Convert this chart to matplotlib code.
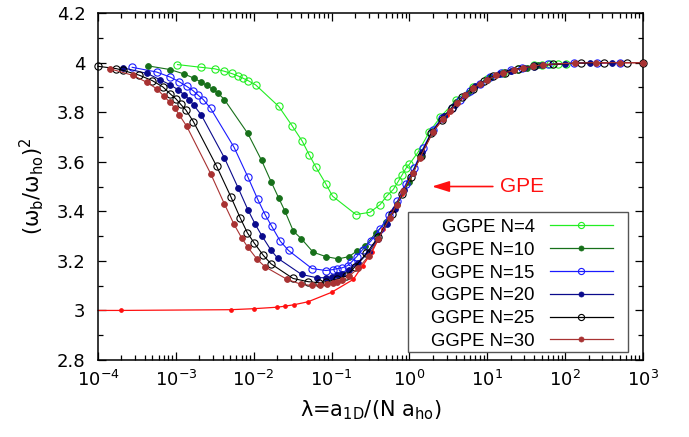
import matplotlib
matplotlib.use("Agg")
import matplotlib.pyplot as plt
from matplotlib.lines import Line2D
from matplotlib.patches import Rectangle
from matplotlib.ticker import LogLocator, MultipleLocator, NullFormatter

plt.rcParams['font.family'] = ['DejaVu Sans']
plt.rcParams['mathtext.fontset'] = 'dejavusans'

# ---- data: lambda vs (omega_b/omega_ho)^2 ----
gpe_x = [1e-4, 2e-4, 5.1e-3, 1e-2, 2e-2, 2.5e-2, 3.3e-2, 5e-2, 0.1, 0.19, 0.25, 0.33, 0.46,
         0.6, 0.8, 1.0, 1.4, 2.0, 3.0, 5.0, 10, 20, 50, 100, 1000]
gpe_y = [3.0, 3.0, 3.003, 3.007, 3.013, 3.017, 3.023, 3.035, 3.073, 3.125, 3.18, 3.235, 3.327,
         3.40, 3.47, 3.53, 3.625, 3.72, 3.79, 3.86, 3.93, 3.967, 3.99, 3.996, 4.0]

n4_x = [1.05e-3, 2.1e-3, 3.15e-3, 4.2e-3, 5.2e-3, 6.3e-3, 7.3e-3, 8.5e-3, 1.06e-2, 2.1e-2,
        3.1e-2, 4.2e-2, 5.2e-2, 6.3e-2, 8.4e-2, 0.103, 0.206, 0.312, 0.42, 0.51, 0.62, 0.72,
        0.81, 0.9, 1.0, 1.3, 1.8, 2.5, 4.0, 6.5, 10, 16, 25, 40, 50, 64, 81, 102]
n4_y = [3.992, 3.981, 3.975, 3.965, 3.956, 3.946, 3.937, 3.927, 3.910, 3.823,
        3.746, 3.683, 3.626, 3.578, 3.512, 3.461, 3.387, 3.396, 3.427, 3.461, 3.488, 3.521,
        3.548, 3.573, 3.59, 3.64, 3.72, 3.78, 3.85, 3.90, 3.935, 3.96, 3.975, 3.99, 3.992,
        3.993, 3.995, 3.996]

n10_x = [4.35e-4, 8.4e-4, 1.28e-3, 1.71e-3, 2.1e-3, 2.5e-3, 2.97e-3, 3.44e-3, 4.2e-3, 8.4e-3,
         1.26e-2, 1.67e-2, 2.1e-2, 2.5e-2, 3.23e-2, 4.1e-2, 5.8e-2, 8.5e-2, 0.122, 0.167,
         0.21, 0.27, 0.37, 0.5, 0.7, 1.0, 1.4, 2.0, 2.8, 4.0, 5.6, 8.0, 11, 16, 22, 32, 45]
n10_y = [3.987, 3.972, 3.954, 3.937, 3.922, 3.908, 3.892, 3.878, 3.851, 3.714,
         3.606, 3.520, 3.453, 3.403, 3.320, 3.289, 3.235, 3.217, 3.208, 3.217,
         3.239, 3.259, 3.313, 3.355, 3.43, 3.52, 3.625, 3.725, 3.785, 3.84, 3.878, 3.915,
         3.94, 3.958, 3.97, 3.98, 3.99]

n15_x = [2.75e-4, 5.66e-4, 8.4e-4, 1.1e-3, 1.38e-3, 1.66e-3, 1.94e-3, 2.25e-3, 2.8e-3, 5.6e-3,
         8.4e-3, 1.12e-2, 1.4e-2, 1.7e-2, 2.2e-2, 2.8e-2, 5.6e-2, 8.5e-2, 0.105, 0.119,
         0.137, 0.161, 0.18, 0.21, 0.25, 0.32, 0.42, 0.55, 0.7, 0.9, 1.15, 1.5, 2.0, 2.6,
         3.5, 4.5, 6.0, 8.0, 11, 15, 20, 28, 40, 60, 130, 260, 500]
n15_y = [3.981, 3.962, 3.942, 3.923, 3.904, 3.887, 3.868, 3.851, 3.815, 3.658,
         3.539, 3.450, 3.387, 3.340, 3.279, 3.242, 3.169, 3.161, 3.165, 3.169,
         3.172, 3.181, 3.195, 3.217, 3.245, 3.28, 3.33, 3.385, 3.44, 3.51, 3.575, 3.655,
         3.73, 3.775, 3.815, 3.85, 3.885, 3.915, 3.942, 3.958, 3.97, 3.98, 3.987, 3.993,
         3.998, 4.0, 4.0]

n20_x = [2.1e-4, 4.3e-4, 6.25e-4, 8.4e-4, 1.06e-3, 1.27e-3, 1.49e-3, 1.71e-3, 2.12e-3, 4.2e-3,
         6.3e-3, 8.4e-3, 1.05e-2, 1.28e-2, 1.67e-2, 2.03e-2, 4.13e-2, 6.45e-2, 8.5e-2, 0.1,
         0.119, 0.135, 0.17, 0.22, 0.3, 0.4, 0.52, 0.65, 0.85, 1.1, 1.45, 2.0, 2.8, 3.8,
         5.2, 7.0, 10, 14, 20, 30, 50, 100, 210, 400]
n20_y = [3.979, 3.956, 3.931, 3.911, 3.891, 3.871, 3.851, 3.827, 3.789, 3.616,
         3.495, 3.407, 3.347, 3.300, 3.243, 3.211, 3.145, 3.132, 3.132, 3.134,
         3.141, 3.145, 3.165, 3.19, 3.235, 3.29, 3.35, 3.41, 3.485, 3.555, 3.64, 3.72,
         3.785, 3.83, 3.87, 3.905, 3.93, 3.952, 3.967, 3.98, 3.99, 3.996, 4.0, 4.0]

n25_x = [1e-4, 1.7e-4, 2.07e-4, 3.4e-4, 5.0e-4, 6.8e-4, 8.4e-4, 1.0e-3, 1.16e-3, 1.35e-3,
         1.68e-3, 3.34e-3, 5.1e-3, 6.7e-3, 8.3e-3, 1.01e-2, 1.33e-2, 1.67e-2, 3.2e-2, 5.0e-2,
         6.8e-2, 8.6e-2, 0.116, 0.153, 0.2, 0.28, 0.4, 0.6, 0.8, 1.05, 1.4, 1.9, 2.6, 3.5,
         4.8, 6.5, 9, 12, 17, 25, 40, 70, 160, 320, 630, 1000]
n25_y = [3.985, 3.976, 3.969, 3.949, 3.927, 3.902, 3.875, 3.854, 3.831, 3.808,
         3.762, 3.582, 3.458, 3.374, 3.313, 3.273, 3.222, 3.188, 3.129, 3.116,
         3.112, 3.116, 3.125, 3.138, 3.176, 3.23, 3.297, 3.391, 3.47, 3.54, 3.625, 3.715,
         3.77, 3.815, 3.86, 3.895, 3.925, 3.945, 3.96, 3.975, 3.986, 3.993, 3.998, 4.0,
         4.0, 4.0]

n30_x = [1.43e-4, 2.84e-4, 4.2e-4, 5.7e-4, 7.05e-4, 8.4e-4, 9.8e-4, 1.1e-3, 1.38e-3, 2.8e-3,
         4.2e-3, 5.6e-3, 7e-3, 8.4e-3, 1.11e-2, 1.4e-2, 2.7e-2, 4.1e-2, 5.6e-2, 7.1e-2,
         8.8e-2, 0.103, 0.119, 0.137, 0.17, 0.22, 0.3, 0.4, 0.56, 0.685, 0.83, 1.12, 1.37,
         2.0, 2.7, 3.3, 4.05, 5.2, 6.6, 8.0, 10, 13, 16, 22, 29, 39, 52, 134, 250, 500, 1000]
n30_y = [3.975, 3.948, 3.921, 3.894, 3.864, 3.840, 3.815, 3.790, 3.743, 3.552,
         3.430, 3.347, 3.293, 3.255, 3.206, 3.176, 3.125, 3.105, 3.101, 3.101,
         3.105, 3.109, 3.114, 3.121, 3.14, 3.17, 3.22, 3.29, 3.374, 3.427, 3.481, 3.555, 3.616,
         3.72, 3.774, 3.805, 3.836, 3.869, 3.897, 3.914, 3.931, 3.948, 3.956, 3.969, 3.979,
         3.985, 3.992, 3.998, 4.0, 4.0, 4.0]

labels = ['GGPE N=4', 'GGPE N=10', 'GGPE N=15', 'GGPE N=20', 'GGPE N=25', 'GGPE N=30']
colors = ['#22ee22', '#17701a', '#1a1aff', '#0a0a8c', '#000000', '#a83232']
filled = [False, True, False, True, False, True]
series = [(n4_x, n4_y), (n10_x, n10_y), (n15_x, n15_y), (n20_x, n20_y),
          (n25_x, n25_y), (n30_x, n30_y)]

fig = plt.figure(figsize=(6.89, 4.37), dpi=100)
ax = fig.add_axes([0.1422, 0.1762, 0.791, 0.794])

# mean-field (GPE) curve: the value at the left border carries no marker
ax.plot(gpe_x, gpe_y, '-', color='#ff1010', lw=0.9, marker='o', ms=2.4,
        mfc='#ff1010', mec='#ff1010', markevery=list(range(1, len(gpe_x))),
        clip_on=False, zorder=2)

handles = []
for (xs, ys), lab, c, f in zip(series, labels, colors, filled):
    if f:
        kw = dict(marker='o', ms=4.2, mfc=c, mec=c, mew=0.6)
    else:
        kw = dict(marker='o', ms=5.2, mfc='none', mec=c, mew=0.8)
    ax.plot(xs, ys, '-', color=c, lw=0.8, clip_on=False, zorder=3, **kw)
    handles.append(Line2D([], [], color=c, lw=0.9, **dict(kw, ms=kw['ms'] * 0.85)))

ax.set_xscale('log')
ax.set_xlim(1e-4, 1e3)
ax.set_ylim(2.8, 4.2)
ax.xaxis.set_major_locator(LogLocator(base=10, numticks=20))
ax.xaxis.set_minor_locator(LogLocator(base=10, subs=(2, 3, 4, 5, 6, 7, 8, 9), numticks=20))
ax.xaxis.set_minor_formatter(NullFormatter())
ax.yaxis.set_minor_locator(MultipleLocator(0.1))
ax.set_yticks([2.8, 3.0, 3.2, 3.4, 3.6, 3.8, 4.0, 4.2])
ax.set_yticklabels(['2.8', '3', '3.2', '3.4', '3.6', '3.8', '4', '4.2'])

ax.tick_params(which='both', direction='in', top=True, right=True, width=0.9)
ax.tick_params(which='major', length=6, labelsize=13)
ax.tick_params(which='minor', length=3.5)
ax.tick_params(axis='y', pad=9)
ax.tick_params(axis='x', pad=7)
for s in ax.spines.values():
    s.set_linewidth(1.1)

ax.set_xlabel('λ=a$_{\\mathrm{1D}}$/(N a$_{\\mathrm{ho}}$)', fontsize=15, labelpad=6)
ax.set_ylabel('(ω$_{\\mathrm{b}}$/ω$_{\\mathrm{ho}}$)$^{2}$', fontsize=15, labelpad=8)

ax.annotate('', xy=(1.95, 3.5), xytext=(11.8, 3.5),
            arrowprops=dict(arrowstyle='-|>,head_length=0.7,head_width=0.22',
                            color='#ff1010', lw=1.2, shrinkA=0, shrinkB=0,
                            mutation_scale=15))
ax.text(14.5, 3.5, 'GPE', color='#ff1010', fontsize=15, va='center', ha='left',
        family='Liberation Sans')

# legend entries (text right-aligned, sample line to the right) inside a plain box
leg = ax.legend(handles, labels, loc='lower right', bbox_to_anchor=(0.945, 0.029),
                borderaxespad=0, borderpad=0, markerfirst=False, handlelength=3.4,
                labelspacing=0.31, frameon=False, handletextpad=0.8,
                prop={'family': 'Liberation Sans', 'size': 13.4})
ax.add_patch(Rectangle((0.5688, 0.023), 0.4037, 0.4035, transform=ax.transAxes,
                       fill=False, edgecolor='#555555', lw=1.0, zorder=5))

fig.savefig('out.png', dpi=100)
